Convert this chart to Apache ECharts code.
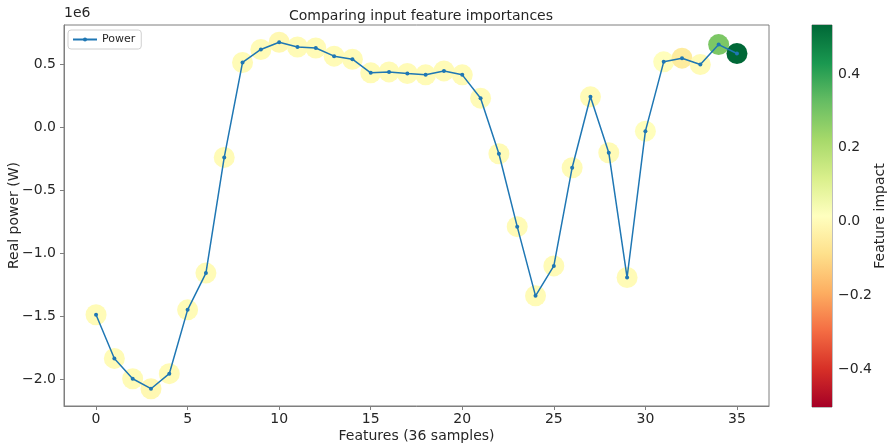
<!DOCTYPE html>
<html>
<head>
<meta charset="utf-8">
<script src="https://cdn.jsdelivr.net/npm/echarts@6/dist/echarts.min.js"></script>
<style>
  html, body { margin: 0; padding: 0; background: #fff; }
  #chart { width: 888px; height: 444px; }
</style>
</head>
<body>
<div id="chart"></div>
<script>
// feature index 0..35
var features = [0,1,2,3,4,5,6,7,8,9,10,11,12,13,14,15,16,17,18,19,20,21,22,23,24,25,26,27,28,29,30,31,32,33,34,35];
// real power (W)
var power = [
  -1487000, -1833000, -1994000, -2073000, -1954000, -1448000, -1157000, -240000,
   512000,   615000,   672000,   635000,   627000,   562000,   538000,   430000,
   437000,   425000,   414000,   445000,   414000,   229000,  -211000,  -789000,
  -1337000, -1100000,  -322000,   240000,  -203000, -1192000,   -32000,   517000,
   546000,   496000,   654000,   583000
];
// feature impact (colour of the circles)
var impact = [
   0.00,  0.00,  0.00, -0.01,  0.00,  0.00,  0.00,  0.00,
   0.00,  0.00, -0.01,  0.00,  0.00,  0.00,  0.00,  0.00,
   0.00,  0.00,  0.00,  0.00,  0.00,  0.00,  0.00,  0.00,
   0.00,  0.00,  0.00,  0.00,  0.00,  0.00,  0.01,  0.01,
  -0.05,  0.00,  0.29,  0.533
];
var xTicks = [0, 5, 10, 15, 20, 25, 30, 35];
var yTicks = [-2000000, -1500000, -1000000, -500000, 0, 500000];
var cbTicks = [-0.4, -0.2, 0.0, 0.2, 0.4];
var cbMin = -0.503, cbMax = 0.533;

// RdYlGn
var rdylgn = ['#a50026','#d73027','#f46d43','#fdae61','#fee08b','#ffffbf','#d9ef8b','#a6d96a','#66bd63','#1a9850','#006837'];

var font = 'DejaVu Sans';
var txt = '#262626';
var spine = '#7f7f7f';

function minus(s) { return s.replace('-', '\u2212'); }

var lineData = features.map(function (f, i) { return [f, power[i]]; });
var dotData = features.map(function (f, i) { return [f, power[i], impact[i]]; });

var chart = echarts.init(document.getElementById('chart'));
chart.setOption({
  animation: false,
  textStyle: { fontFamily: font },
  title: {
    text: 'Comparing input feature importances',
    left: 416, top: 4, textAlign: 'center',
    textStyle: { fontFamily: font, fontSize: 14, fontWeight: 'normal', color: txt }
  },
  graphic: [{
    type: 'text', left: 64, top: 6,
    style: { text: '1e6', fontFamily: font, fontSize: 14, fill: txt }
  }],
  legend: {
    data: ['Power'],
    left: 68, top: 30,
    padding: [4, 6, 4, 4],
    itemWidth: 24, itemHeight: 5,
    borderColor: '#d0d0d0', borderWidth: 1, borderRadius: 3,
    textStyle: { fontFamily: font, fontSize: 11, color: txt }
  },
  grid: [
    { left: 64, right: 119, top: 25, bottom: 38, outerBoundsMode: 'none', show: true, borderColor: spine, borderWidth: 1 },
    { left: 812, width: 20, top: 25, height: 382, outerBoundsMode: 'none', show: true, borderColor: spine, borderWidth: 1 }
  ],
  xAxis: [{
    type: 'value', gridIndex: 0,
    min: -1.75, max: 36.75,
    name: 'Features (36 samples)', nameLocation: 'middle', nameGap: 23, nameMoveOverlap: false,
    nameTextStyle: { fontFamily: font, fontSize: 14, color: txt },
    axisLine: { show: true, onZero: false, lineStyle: { color: spine } },
    axisTick: { show: true, length: 4, lineStyle: { color: spine }, customValues: xTicks },
    axisLabel: { fontFamily: font, fontSize: 14, color: txt, margin: 6, customValues: xTicks },
    splitLine: { show: false }
  }, {
    type: 'value', gridIndex: 1, min: 0, max: 1, show: false
  }],
  yAxis: [{
    type: 'value', gridIndex: 0,
    min: -2210000, max: 809000,
    name: 'Real power (W)', nameLocation: 'middle', nameGap: 43, nameMoveOverlap: false,
    nameTextStyle: { fontFamily: font, fontSize: 14, color: txt },
    axisLine: { show: true, onZero: false, lineStyle: { color: spine } },
    axisTick: { show: true, length: 4, lineStyle: { color: spine }, customValues: yTicks },
    axisLabel: {
      fontFamily: font, fontSize: 14, color: txt, margin: 8, customValues: yTicks,
      formatter: function (v) { return minus((v / 1e6).toFixed(1)); }
    },
    splitLine: { show: false }
  }, {
    type: 'value', gridIndex: 1, position: 'right',
    min: cbMin, max: cbMax,
    name: 'Feature impact', nameLocation: 'middle', nameGap: 41, nameRotate: 90, nameMoveOverlap: false,
    nameTextStyle: { fontFamily: font, fontSize: 14, color: txt },
    axisLine: { show: false },
    axisTick: { show: true, length: 4, lineStyle: { color: spine }, customValues: cbTicks },
    axisLabel: {
      fontFamily: font, fontSize: 14, color: txt, margin: 6, customValues: cbTicks,
      formatter: function (v) { return minus(v.toFixed(1)); }
    },
    splitLine: { show: false }
  }],
  visualMap: {
    show: false, type: 'continuous',
    seriesIndex: 0, dimension: 2,
    min: cbMin, max: cbMax,
    inRange: { color: rdylgn }
  },
  series: [{
    name: 'impact', type: 'scatter',
    xAxisIndex: 0, yAxisIndex: 0,
    symbolSize: 21,
    itemStyle: { opacity: 1 },
    z: 1,
    data: dotData
  }, {
    name: 'Power', type: 'line',
    xAxisIndex: 0, yAxisIndex: 0,
    symbol: 'circle', symbolSize: 4,
    color: '#1f77b4',
    lineStyle: { width: 1.5, color: '#1f77b4' },
    itemStyle: { color: '#1f77b4' },
    z: 3,
    data: lineData
  }, {
    name: 'colorbar', type: 'custom',
    xAxisIndex: 1, yAxisIndex: 1,
    silent: true,
    data: [[0, cbMin, cbMax]],
    renderItem: function (params, api) {
      var p0 = api.coord([0, api.value(1)]);
      var p1 = api.coord([1, api.value(2)]);
      var stops = rdylgn.map(function (c, i) { return { offset: i / (rdylgn.length - 1), color: c }; });
      return {
        type: 'rect',
        shape: { x: p0[0], y: p1[1], width: p1[0] - p0[0], height: p0[1] - p1[1] },
        style: { fill: new echarts.graphic.LinearGradient(0, 1, 0, 0, stops) }
      };
    }
  }]
});
</script>
</body>
</html>
